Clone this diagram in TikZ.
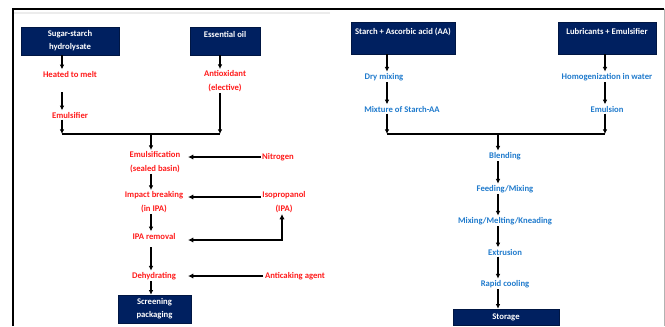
\documentclass[tikz,border=0pt]{standalone}
\usepackage{fontspec}
\setmainfont{Carlito}
\usetikzlibrary{arrows.meta,positioning}
\definecolor{navy}{HTML}{002060}
\definecolor{stepred}{HTML}{FF1A1A}
\definecolor{stepblue}{HTML}{1F7ACC}
\tikzset{
  hdr/.style={draw=navy!70!black,fill=navy,text=white,align=center,inner sep=1pt,
    font=\fontsize{6.5}{9.75}\selectfont\bfseries},
  redtxt/.style={text=stepred,align=center,inner sep=1pt,
    font=\fontsize{6.5}{10}\selectfont\bfseries},
  bluetxt/.style={text=stepblue,align=center,inner sep=1pt,
    font=\fontsize{6.5}{10}\selectfont\bfseries},
  arr/.style={-{Latex[length=3.5pt,width=3.5pt]},line width=0.9pt},
  fat/.style={-{Latex[length=4pt,width=4pt]},line width=1.4pt},
  ln/.style={line width=0.9pt}
}
\begin{document}
\begin{tikzpicture}[x=0.75pt,y=-0.75pt]
\useasboundingbox (0,0) rectangle (665,326);
% frame
\draw[line width=0.8pt] (13,326) -- (13,9) -- (664,9);
\draw[gray!60,line width=0.6pt] (664,9) -- (664,326);
\draw[gray!15,line width=0.8pt] (14,13) -- (330,13);
% columns
\coordinate (cL) at (62,0);
\coordinate (cO) at (220,0);
\coordinate (cM) at (151,0);
\coordinate (cA) at (188,0);
\coordinate (cI) at (282,0);
\coordinate (dL) at (387,0);
\coordinate (dR) at (605,0);
\coordinate (dM) at (498,0);

% left chart
\node[hdr,minimum width=73.5pt,minimum height=21pt] (sugar) at (70,41) {Sugar-starch\\hydrolysate};
\node[hdr,minimum width=52.5pt,minimum height=21pt] (oil) at (225,41) {Essential oil\\~};
\node[redtxt] (melt) at (70,74) {Heated to melt};
\node[redtxt] (emulsifier) at (70,115) {Emulsifier};
\node[redtxt] (antiox) at (225,81) {Antioxidant\\(elective)};
\coordinate (joinL) at (151,134);
\node[redtxt] (emulsif) at (155,162) {Emulsification\\(sealed basin)};
\node[redtxt] (nitrogen) at (278,157) {Nitrogen};
\node[redtxt] (impact) at (154,202) {Impact breaking\\(in IPA)};
\node[redtxt] (ipa) at (284,202) {Isopropanol\\(IPA)};
\node[redtxt] (ipaout) at (154,236) {IPA removal};
\node[redtxt] (dehyd) at (154,276) {Dehydrating};
\node[redtxt] (anticake) at (295,276) {Anticaking agent};
\node[hdr,minimum width=54.75pt,minimum height=21pt] (screen) at (154.5,309) {Screening\\packaging};

\draw[arr] (sugar.south -| cL) -- (melt.north -| cL);
\draw[arr,shorten <=10pt] (melt.south -| cL) -- (emulsifier.north -| cL);
\draw[arr] (emulsifier.south -| cL) -- (joinL -| cL);
\draw[arr] (oil.south -| cO) -- (antiox.north -| cO);
\draw[arr] (antiox.south -| cO) -- (joinL -| cO);
\draw[ln] (joinL -| cL) -- (joinL -| cO);
\draw[arr] (joinL) -- (emulsif.north -| cM);
\draw[arr] (emulsif.south -| cM) -- (impact.north -| cM);
\draw[arr] (impact.south -| cM) -- (ipaout.north -| cM);
\draw[arr,shorten <=5pt] (ipaout.south -| cM) -- (dehyd.north -| cM);
\draw[arr] (dehyd.south -| cM) -- (screen.north -| cM);
\draw[fat] (nitrogen.west) -- (nitrogen.west -| cA);
\draw[fat] ([yshift=3.75pt]ipa.west) -- ([yshift=3.75pt]ipa.west -| cA);
\draw[fat,{Latex[length=4pt,width=4pt]}-{Latex[length=4pt,width=4pt]}]
  ([yshift=-3pt]ipaout.east -| cA) -| (ipa.south -| cI);
\draw[fat] (anticake.west) -- (anticake.west -| cA);

% right chart
\node[hdr,minimum width=78pt,minimum height=24pt] (starch) at (403,38) {Starch + Ascorbic acid (AA)\\~};
\node[hdr,minimum width=73.5pt,minimum height=24pt] (lubri) at (607,38) {Lubricants + Emulsifier\\~};
\node[bluetxt] (drymix) at (384,77) {Dry mixing};
\node[bluetxt] (mixture) at (402,109) {Mixture of Starch-AA};
\node[bluetxt] (homog) at (607,77) {Homogenization in water};
\node[bluetxt] (emulsion) at (607,109) {Emulsion};
\coordinate (joinR) at (498,134);
\node[bluetxt] (blend) at (505,156) {Blending};
\node[bluetxt] (feed) at (505,189) {Feeding/Mixing};
\node[bluetxt] (knead) at (505,221) {Mixing/Melting/Kneading};
\node[bluetxt] (extrude) at (505,252) {Extrusion};
\node[bluetxt] (cool) at (505,284) {Rapid cooling};
\node[hdr,minimum width=79.5pt,minimum height=12pt] (storage) at (506,317) {Storage};

\draw[arr] (starch.south -| dL) -- (drymix.north -| dL);
\draw[arr] (drymix.south -| dL) -- (mixture.north -| dL);
\draw[arr] (mixture.south -| dL) -- (joinR -| dL);
\draw[arr] (lubri.south -| dR) -- (homog.north -| dR);
\draw[arr] (homog.south -| dR) -- (emulsion.north -| dR);
\draw[arr] (emulsion.south -| dR) -- (joinR -| dR);
\draw[ln] (joinR -| dL) -- (joinR -| dR);
\draw[arr] (joinR) -- (blend.north -| dM);
\draw[arr] (blend.south -| dM) -- (feed.north -| dM);
\draw[arr] (feed.south -| dM) -- (knead.north -| dM);
\draw[arr] (knead.south -| dM) -- (extrude.north -| dM);
\draw[arr] (extrude.south -| dM) -- (cool.north -| dM);
\draw[arr] (cool.south -| dM) -- (storage.north -| dM);
\end{tikzpicture}
\end{document}
